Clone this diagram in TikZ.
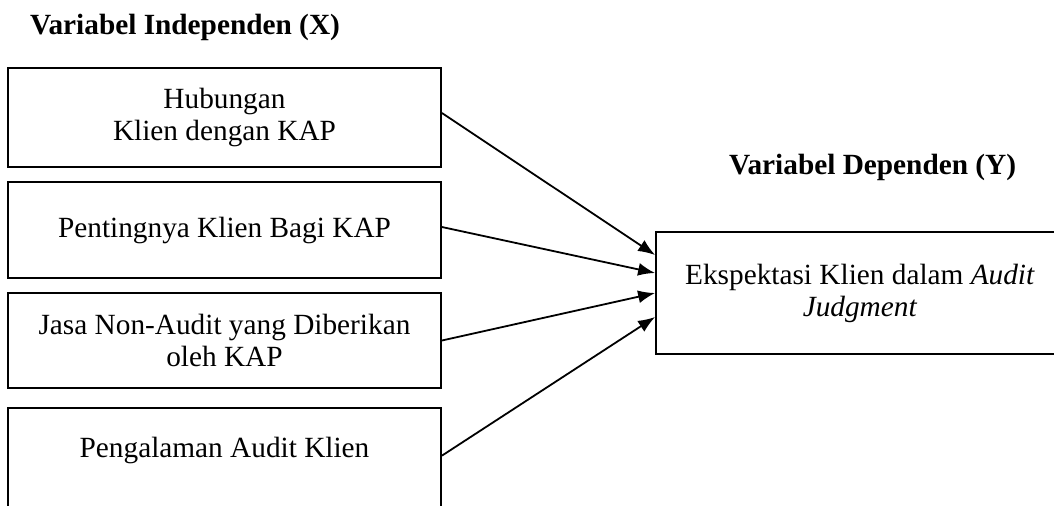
\documentclass[tikz,border=0pt]{standalone}
\usepackage{fontspec}
\setmainfont{Liberation Serif}
\usepackage{tikz}
\usetikzlibrary{arrows.meta}

\begin{document}
\begin{tikzpicture}[x=0.5pt,y=-0.5pt,>={Latex[length=8.5pt,width=6.5pt]},
		varbox/.style={draw,line width=0.9pt,rectangle,align=center,minimum width=216.5pt},
		txt/.style={font=\fontsize{14.65pt}{16pt}\selectfont}]
			\clip (0,0) rectangle (1054,505);

			\node [txt,font=\fontsize{14.65pt}{16pt}\selectfont\bfseries,anchor=base west] (indeptitle) at (23,34) {Variabel Independen (X)};
			\node [txt,font=\fontsize{14.65pt}{16pt}\selectfont\bfseries,anchor=base west] (deptitle) at (722,174) {Variabel Dependen (Y)};

			\node [varbox,txt,minimum height=49.5pt] (hub) at (224.5,117.5) {Hubungan\\Klien dengan KAP};
			\node [varbox,txt,minimum height=48pt] (penting) at (224.5,230) {Pentingnya Klien Bagi KAP};
			\node [varbox,txt,minimum height=47.5pt] (jasa) at (224.5,340.5) {Jasa Non-Audit yang Diberikan\\oleh KAP};
			\node [varbox,txt,anchor=north,text height=21.6pt,text depth=25pt] (pengalaman) at (224.5,407) {Pengalaman Audit Klien};

			\node [draw,line width=0.9pt,rectangle,align=center,txt,minimum width=204pt,minimum height=61pt] (ekspektasi) at (860,293) {Ekspektasi Klien dalam \textit{Audit}\\\textit{Judgment}};

			\draw [->,line width=0.9pt] ([yshift=2.25pt]hub.east) -- ([yshift=19pt]ekspektasi.west);
			\draw [->,line width=0.9pt] ([yshift=1.5pt]penting.east) -- ([yshift=10pt]ekspektasi.west);
			\draw [->,line width=0.9pt] (jasa.east) -- (ekspektasi.west);
			\draw [->,line width=0.9pt] ([yshift=2.75pt]pengalaman.east) -- ([yshift=-12pt]ekspektasi.west);
		\end{tikzpicture}
\end{document}
